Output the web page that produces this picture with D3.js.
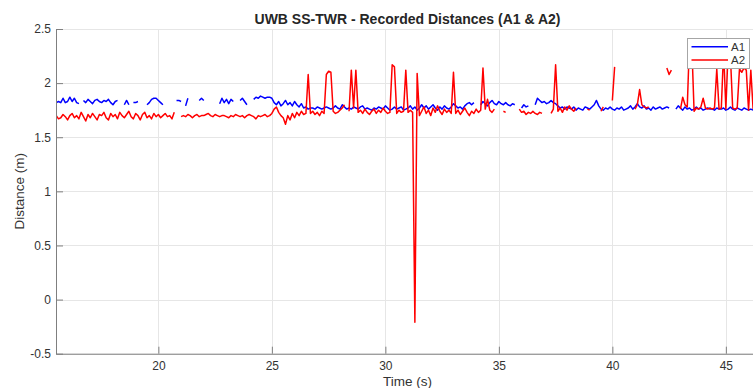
<!DOCTYPE html>
<html><head><meta charset="utf-8">
<script src="https://cdn.jsdelivr.net/npm/d3@7"></script>
<style>
html,body{margin:0;padding:0;background:#fff;overflow:hidden}
svg{display:block;font-family:"Liberation Sans",Arial,Helvetica,sans-serif}
</style>
</head><body>
<svg id="chart" width="753" height="388"></svg>
<script>
const chartTitle = "UWB SS-TWR - Recorded Distances (A1 & A2)";
const xLabel = "Time (s)";
const yLabel = "Distance (m)";
const seriesNames = ["A1", "A2"];
const seriesColors = ["#0000ff", "#ff0000"];
const xTicks = [20, 25, 30, 35, 40, 45];
const yTicks = [-0.5, 0, 0.5, 1, 1.5, 2, 2.5];
const xDomain = [15.49, 46.46];
const yDomain = [-0.5, 2.5];
const tStart = 15.5, tStep = 0.1;

// A1 distances (m), one sample every 0.1 s from 15.5 s; null = no reading
const a1 = [
1.82,1.83,1.82,1.86,1.82,1.83,1.87,1.83,1.86,1.82,
1.81,null,1.84,1.82,1.85,1.83,1.81,1.84,1.85,1.83,
1.82,1.84,1.83,1.85,1.82,1.80,1.83,1.84,null,null,
1.80,1.84,1.80,null,1.82,1.82,1.83,null,null,null,
1.80,1.82,1.85,1.86,1.86,1.84,1.82,1.80,null,null,
null,null,null,1.84,1.84,1.83,null,1.79,1.86,null,
null,null,null,1.84,1.86,1.84,null,null,null,null,
null,null,1.81,1.86,1.82,1.85,1.81,1.85,1.83,null,
null,1.84,1.86,1.83,1.80,null,null,1.85,1.87,1.86,
1.88,1.87,1.86,1.87,1.87,1.86,1.82,1.80,1.83,1.79,
1.81,1.84,1.80,1.82,1.79,1.83,1.80,1.78,1.81,1.77,
1.78,1.76,1.77,1.77,1.76,1.78,1.77,1.76,1.77,1.78,
1.77,1.76,1.77,1.79,1.77,1.76,1.80,1.78,1.76,1.77,
1.76,1.78,1.77,1.76,1.78,1.79,1.76,1.77,1.76,1.75,
1.77,1.76,1.78,1.77,1.76,1.79,1.77,1.75,1.76,1.78,
1.76,1.77,1.78,1.75,1.76,1.77,1.79,1.76,1.78,1.75,
1.77,1.80,1.77,1.79,1.76,1.78,1.80,1.77,1.75,1.78,
1.76,1.79,1.77,1.76,1.78,1.81,1.79,1.77,1.78,1.76,
1.79,1.81,1.82,1.80,1.82,null,null,1.80,1.83,1.81,
1.79,1.82,1.84,1.81,1.80,1.83,1.81,1.80,1.82,1.80,
1.79,1.81,1.80,null,null,1.77,1.80,1.78,1.79,null,
null,1.80,1.86,1.84,1.82,1.83,1.81,1.82,1.84,1.82,
1.81,1.79,1.77,1.78,1.76,1.78,1.77,1.76,1.78,1.75,
1.77,1.76,1.75,1.78,1.77,1.76,1.78,1.80,1.84,1.79,
1.76,1.75,1.77,1.76,1.78,1.76,1.75,1.77,1.76,1.78,
1.75,1.76,1.77,1.79,1.76,1.78,1.81,1.78,1.77,1.79,
1.76,1.77,1.75,1.78,1.76,1.77,1.78,1.76,1.77,1.78,
1.77,null,null,1.76,1.79,1.77,1.75,1.78,1.76,1.77,
1.75,1.76,1.78,1.76,1.77,1.75,1.76,1.77,1.76,1.76,
1.75,1.77,1.76,1.76,1.77,1.75,1.76,1.78,1.76,1.75,
1.77,1.76,1.75,1.77,1.76,1.75,1.76,1.75
];

// A2 distances (m), same sampling; null = no reading
const a2 = [
1.70,1.67,1.68,1.71,1.69,1.66,1.70,1.72,1.68,1.70,
1.67,1.73,1.69,1.65,1.71,1.68,1.72,1.69,1.66,1.71,
1.70,1.73,1.68,1.66,1.72,1.69,1.71,1.67,1.73,1.70,
1.68,1.71,1.74,1.69,1.67,1.72,1.70,1.66,1.71,1.73,
1.68,1.70,1.67,1.72,1.69,1.71,1.68,1.70,1.72,1.69,
1.70,1.67,1.73,null,null,1.69,1.70,1.69,1.71,1.70,
1.68,1.70,1.71,1.69,1.70,1.70,1.71,1.72,1.70,1.69,
1.71,1.70,1.69,1.70,1.70,1.69,1.68,1.70,1.69,1.71,
1.70,1.69,1.70,1.68,1.70,1.71,1.70,1.69,1.67,1.70,
1.69,1.70,1.71,1.69,1.70,1.72,1.76,1.78,1.73,1.70,
1.68,1.62,1.70,1.66,1.72,1.68,1.73,1.70,1.74,1.71,
1.72,2.08,1.72,1.74,1.71,1.73,1.70,1.74,1.72,2.08,
2.11,2.10,1.74,1.72,1.73,1.75,1.77,1.80,null,1.74,
2.12,1.77,2.12,1.73,1.75,1.72,1.76,1.73,1.71,1.74,
1.76,1.72,1.75,1.73,1.77,1.74,1.72,1.73,2.17,2.15,
1.72,1.75,1.73,1.74,2.12,1.73,1.75,1.73,-0.21,2.09,
1.70,1.74,1.78,1.72,1.75,1.70,1.77,1.73,1.79,1.74,
1.71,1.76,1.73,1.75,1.72,2.10,1.72,1.75,1.71,1.74,
1.77,1.73,1.70,1.74,1.72,1.76,1.73,1.75,2.14,1.76,
1.85,1.75,1.73,1.76,null,null,null,1.74,1.73,null,
null,null,null,null,1.76,1.73,1.74,1.71,1.73,1.72,
1.74,1.72,1.71,1.73,1.72,null,null,null,1.72,1.76,
2.17,1.74,1.77,1.73,1.78,1.75,1.79,1.76,1.74,1.77,
null,null,null,null,1.76,1.75,null,null,null,null,
1.74,1.78,null,null,null,1.84,2.15,null,null,null,
null,null,null,null,null,1.76,1.80,1.94,1.80,1.78,
1.77,1.78,null,null,null,null,null,null,null,2.14,
2.08,2.12,null,null,null,1.76,1.87,1.80,1.78,2.40,
2.35,1.74,1.77,1.76,1.78,1.86,1.77,1.76,1.77,1.76,
1.77,2.13,1.76,1.77,2.30,1.76,2.30,2.25,1.77,1.76,
1.77,2.13,2.10,2.14,2.12,1.75,2.12,1.76
];

const seriesValues = [a1, a2];

const W = 753, H = 388;
const plot = {left: 56, right: 759, top: 29, bottom: 353.7};
const svg = d3.select("#chart");

const x = d3.scaleLinear().domain(xDomain).range([plot.left, plot.right]);
const y = d3.scaleLinear().domain(yDomain).range([plot.bottom, plot.top]);

// grid
const grid = svg.append("g").attr("stroke", "#e6e6e6").attr("stroke-width", 1);
grid.selectAll("line.gx").data(xTicks).join("line")
  .attr("x1", d => Math.round(x(d)) + 0.5).attr("x2", d => Math.round(x(d)) + 0.5)
  .attr("y1", plot.top).attr("y2", plot.bottom);
grid.selectAll("line.gy").data(yTicks).join("line")
  .attr("x1", plot.left).attr("x2", plot.right)
  .attr("y1", d => Math.round(y(d)) + 0.5).attr("y2", d => Math.round(y(d)) + 0.5);

// clip
svg.append("defs").append("clipPath").attr("id", "clip").append("rect")
  .attr("x", plot.left).attr("y", plot.top)
  .attr("width", plot.right - plot.left).attr("height", plot.bottom - plot.top);

const line = d3.line()
  .defined(d => d.v !== null)
  .x(d => x(d.t)).y(d => y(d.v));

const lines = svg.append("g").attr("clip-path", "url(#clip)");
seriesValues.forEach((vals, k) => {
  const pts = vals.map((v, i) => ({t: tStart + i * tStep, v}));
  lines.append("path").datum(pts)
    .attr("fill", "none")
    .attr("stroke", seriesColors[k])
    .attr("stroke-width", 1.5)
    .attr("stroke-linejoin", "round")
    .attr("d", line);
});

// axes
const axisColor = "#7f7f7f";
const textColor = "#333333";
const xAxis = d3.axisBottom(x).tickValues(xTicks).tickSizeInner(-7).tickSizeOuter(0).tickPadding(8).tickFormat(d => String(d));
const yAxis = d3.axisLeft(y).tickValues(yTicks).tickSizeInner(-7).tickSizeOuter(0).tickPadding(5).tickFormat(d => String(d));

const gx = svg.append("g").attr("transform", `translate(0,${plot.bottom})`).call(xAxis);
const gy = svg.append("g").attr("transform", `translate(${plot.left},0)`).call(yAxis);
[gx, gy].forEach(g => {
  g.select(".domain").attr("stroke", axisColor);
  g.selectAll(".tick line").attr("stroke", axisColor);
  g.selectAll(".tick text").attr("fill", textColor)
    .style("font-size", "12px").style("font-family", '"Liberation Sans",Arial,Helvetica,sans-serif');
});

// title & labels
svg.append("text").attr("x", 407.5).attr("y", 24).attr("text-anchor", "middle")
  .style("font-size", "14px").style("font-weight", "bold").attr("fill", "#262626").text(chartTitle);
svg.append("text").attr("x", 407.5).attr("y", 386).attr("text-anchor", "middle")
  .style("font-size", "13.5px").attr("fill", textColor).text(xLabel);
svg.append("text").attr("transform", `translate(23.5,${(plot.top + plot.bottom) / 2}) rotate(-90)`)
  .attr("text-anchor", "middle").style("font-size", "13.5px").attr("fill", textColor).text(yLabel);

// legend
const lg = svg.append("g");
lg.append("rect").attr("x", 687.5).attr("y", 38.5).attr("width", 62).attr("height", 30)
  .attr("fill", "#fff").attr("stroke", "#a6a6a6").attr("stroke-width", 1);
seriesNames.forEach((name, k) => {
  const ly = 46.7 + k * 13.4;
  lg.append("line").attr("x1", 691.5).attr("x2", 728).attr("y1", ly).attr("y2", ly)
    .attr("stroke", seriesColors[k]).attr("stroke-width", 1.5);
  lg.append("text").attr("x", 731).attr("y", ly + 4).style("font-size", "11.5px")
    .attr("fill", textColor).text(name);
});
</script>
</body></html>
